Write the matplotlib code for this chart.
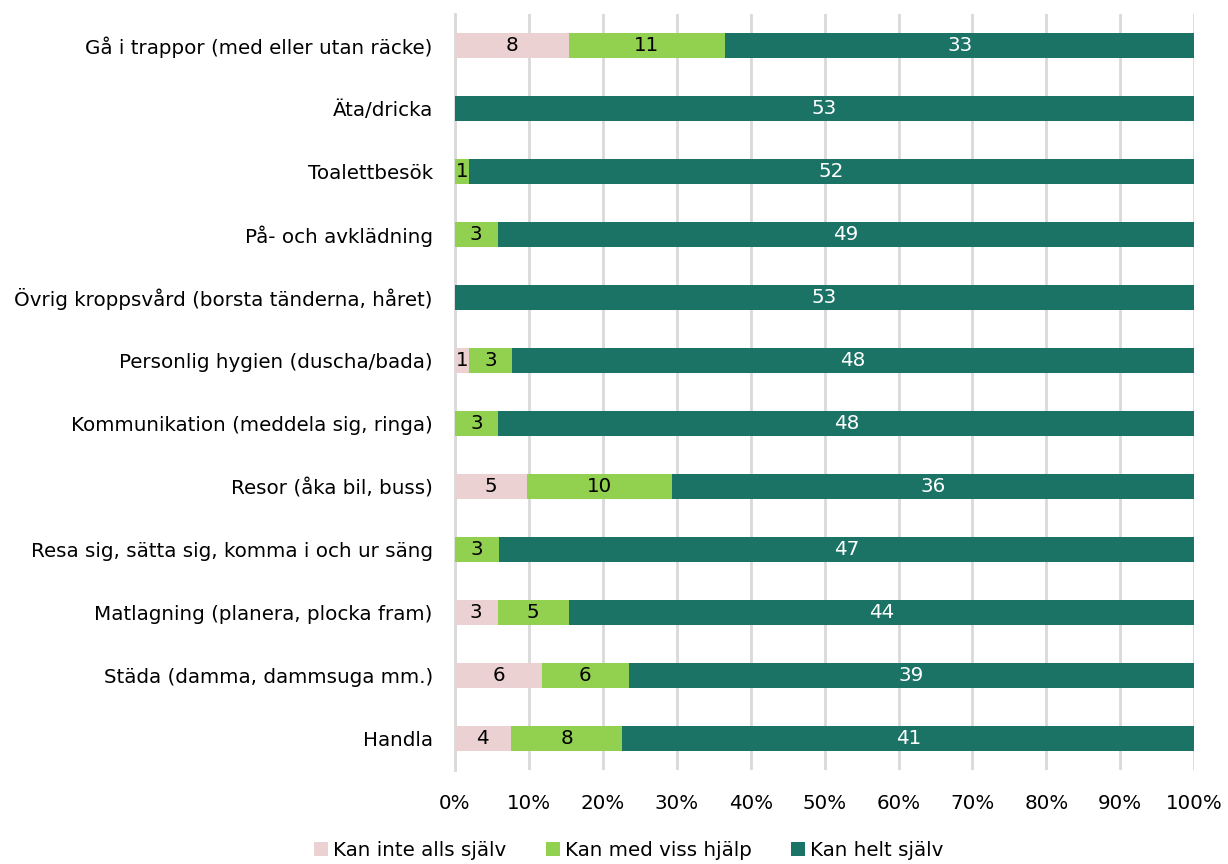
import numpy as np
import matplotlib.pyplot as plt
from matplotlib.ticker import PercentFormatter

plt.rcParams['font.family'] = ['DejaVu Sans']

activities = [
    "Gå i trappor (med eller utan räcke)",
    "Äta/dricka",
    "Toalettbesök",
    "På- och avklädning",
    "Övrig kroppsvård (borsta tänderna, håret)",
    "Personlig hygien (duscha/bada)",
    "Kommunikation (meddela sig, ringa)",
    "Resor (åka bil, buss)",
    "Resa sig, sätta sig, komma i och ur säng",
    "Matlagning (planera, plocka fram)",
    "Städa (damma, dammsuga mm.)",
    "Handla",
]
kan_inte = [8, 0, 0, 0, 0, 1, 0, 5, 0, 3, 6, 4]
viss_hjalp = [11, 0, 1, 3, 0, 3, 3, 10, 3, 5, 6, 8]
helt_sjalv = [33, 53, 52, 49, 53, 48, 48, 36, 47, 44, 39, 41]

series = [
    ("Kan inte alls själv", kan_inte, "#EBD1D1", "black"),
    ("Kan med viss hjälp", viss_hjalp, "#92D050", "black"),
    ("Kan helt själv", helt_sjalv, "#1B7366", "white"),
]

counts = np.array([kan_inte, viss_hjalp, helt_sjalv], dtype=float)
totals = counts.sum(axis=0)
shares = counts / totals

fig = plt.figure(figsize=(12.28, 8.64), dpi=100)
ax = fig.add_axes([0.3705, 0.1088, 0.602, 0.875])

fs = 14.3
y = np.arange(len(activities))
left = np.zeros(len(activities))
for (name, vals, color, txtcolor), share in zip(series, shares):
    ax.barh(y, share, left=left, height=0.41, color=color,
            label=name, zorder=3)
    for i, v in enumerate(vals):
        if v > 0:
            ax.text(left[i] + share[i] / 2, y[i], str(v), ha="center",
                    va="center", fontsize=fs, color=txtcolor, zorder=4)
    left += share

ax.set_xlim(0, 1)
ax.set_ylim(len(activities) - 0.5, -0.5)
ax.set_yticks(y)
ax.set_yticklabels(activities, fontsize=fs)
ax.set_xticks(np.linspace(0, 1, 11))
ax.xaxis.set_major_formatter(PercentFormatter(1.0, decimals=0))
ax.tick_params(axis="x", labelsize=fs, length=0, pad=17)
ax.tick_params(axis="y", length=0, pad=16)
ax.grid(axis="x", color="#D9D9D9", linewidth=2, zorder=0)
for s in ["top", "right", "bottom"]:
    ax.spines[s].set_visible(False)
ax.spines["left"].set_color("#D9D9D9")
ax.spines["left"].set_linewidth(2)

fig.legend(loc="lower center", bbox_to_anchor=(0.512, -0.016), ncol=3,
           frameon=False, fontsize=fs, handlelength=0.7, handleheight=0.7,
           handletextpad=0.25, columnspacing=2.0)

fig.savefig("out.png", dpi=100)
